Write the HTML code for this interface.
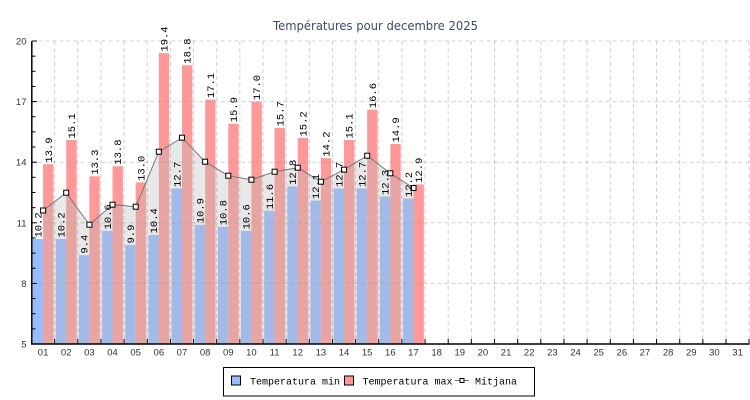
<!DOCTYPE html>
<html><head><meta charset="utf-8"><style>
html,body{margin:0;padding:0;background:#fff;}
svg{display:block;}
.tl{font-family:"Liberation Sans",sans-serif;font-size:9.5px;fill:#333;}
.vl{font-family:"Liberation Mono","DejaVu Sans Mono",monospace;font-size:10.5px;fill:#000;}
.lg{font-family:"Liberation Mono","DejaVu Sans Mono",monospace;font-size:10px;fill:#000;}
</style></head><body>
<svg width="750" height="400" viewBox="0 0 750 400" xmlns="http://www.w3.org/2000/svg">
<rect width="750" height="400" fill="#fff"/>
<text x="375.5" y="30" text-anchor="middle" textLength="205" lengthAdjust="spacingAndGlyphs" style="font-family:'DejaVu Sans','Liberation Sans',sans-serif;font-size:12px;fill:#3d4a6b;">Températures pour decembre 2025</text>

<!-- min bars -->
<g fill="#99bbff">
<rect x="32.675" y="238.96" width="10.4" height="105.04"/>
<rect x="55.825" y="238.96" width="10.4" height="105.04"/>
<rect x="78.975" y="255.12" width="10.4" height="88.88"/>
<rect x="102.125" y="230.88" width="10.4" height="113.12"/>
<rect x="125.275" y="245.02" width="10.4" height="98.98"/>
<rect x="148.425" y="234.92" width="10.4" height="109.08"/>
<rect x="171.575" y="188.46" width="10.4" height="155.54"/>
<rect x="194.725" y="224.82" width="10.4" height="119.18"/>
<rect x="217.875" y="226.84" width="10.4" height="117.16"/>
<rect x="241.025" y="230.88" width="10.4" height="113.12"/>
<rect x="264.175" y="210.68" width="10.4" height="133.32"/>
<rect x="287.325" y="186.44" width="10.4" height="157.56"/>
<rect x="310.475" y="200.58" width="10.4" height="143.42"/>
<rect x="333.625" y="188.46" width="10.4" height="155.54"/>
<rect x="356.775" y="188.46" width="10.4" height="155.54"/>
<rect x="379.925" y="196.54" width="10.4" height="147.46"/>
<rect x="403.075" y="198.56" width="10.4" height="145.44"/>
</g>
<!-- max bars -->
<g fill="#ff9999">
<rect x="43.075" y="164.22" width="10.4" height="179.78"/>
<rect x="66.225" y="139.98" width="10.4" height="204.02"/>
<rect x="89.375" y="176.34" width="10.4" height="167.66"/>
<rect x="112.525" y="166.24" width="10.4" height="177.76"/>
<rect x="135.675" y="182.4" width="10.4" height="161.6"/>
<rect x="158.825" y="53.12" width="10.4" height="290.88"/>
<rect x="181.975" y="65.24" width="10.4" height="278.76"/>
<rect x="205.125" y="99.58" width="10.4" height="244.42"/>
<rect x="228.275" y="123.82" width="10.4" height="220.18"/>
<rect x="251.425" y="101.6" width="10.4" height="242.4"/>
<rect x="274.575" y="127.86" width="10.4" height="216.14"/>
<rect x="297.725" y="137.96" width="10.4" height="206.04"/>
<rect x="320.875" y="158.16" width="10.4" height="185.84"/>
<rect x="344.025" y="139.98" width="10.4" height="204.02"/>
<rect x="367.175" y="109.68" width="10.4" height="234.32"/>
<rect x="390.325" y="144.02" width="10.4" height="199.98"/>
<rect x="413.475" y="184.42" width="10.4" height="159.58"/>
</g>

<!-- mean area -->
<polygon fill="rgba(184,184,184,0.33)" points="43.1,344 43.1,210.5 66.2,192.7 89.4,224.7 112.5,204.7 135.7,206.7 158.8,151.7 182.0,137.7 205.1,161.7 228.3,175.7 251.4,179.7 274.6,171.7 297.7,167.7 320.9,181.7 344.0,169.7 367.2,155.7 390.3,173.3 413.5,188.0 413.5,344"/>

<!-- grid -->
<g stroke="rgba(150,150,150,0.45)" stroke-width="1" stroke-dasharray="4,3" fill="none">
<line x1="31.5" y1="41" x2="749" y2="41"/>
<line x1="31.5" y1="101.6" x2="749" y2="101.6"/>
<line x1="31.5" y1="162.2" x2="749" y2="162.2"/>
<line x1="31.5" y1="222.8" x2="749" y2="222.8"/>
<line x1="31.5" y1="283.4" x2="749" y2="283.4"/>
<line x1="54.65" y1="41" x2="54.65" y2="344"/>
<line x1="77.8" y1="41" x2="77.8" y2="344"/>
<line x1="100.95" y1="41" x2="100.95" y2="344"/>
<line x1="124.1" y1="41" x2="124.1" y2="344"/>
<line x1="147.25" y1="41" x2="147.25" y2="344"/>
<line x1="170.4" y1="41" x2="170.4" y2="344"/>
<line x1="193.55" y1="41" x2="193.55" y2="344"/>
<line x1="216.7" y1="41" x2="216.7" y2="344"/>
<line x1="239.85" y1="41" x2="239.85" y2="344"/>
<line x1="263" y1="41" x2="263" y2="344"/>
<line x1="286.15" y1="41" x2="286.15" y2="344"/>
<line x1="309.3" y1="41" x2="309.3" y2="344"/>
<line x1="332.45" y1="41" x2="332.45" y2="344"/>
<line x1="355.6" y1="41" x2="355.6" y2="344"/>
<line x1="378.75" y1="41" x2="378.75" y2="344"/>
<line x1="401.9" y1="41" x2="401.9" y2="344"/>
<line x1="425.05" y1="41" x2="425.05" y2="344"/>
<line x1="448.2" y1="41" x2="448.2" y2="344"/>
<line x1="471.35" y1="41" x2="471.35" y2="344"/>
<line x1="494.5" y1="41" x2="494.5" y2="344"/>
<line x1="517.65" y1="41" x2="517.65" y2="344"/>
<line x1="540.8" y1="41" x2="540.8" y2="344"/>
<line x1="563.95" y1="41" x2="563.95" y2="344"/>
<line x1="587.1" y1="41" x2="587.1" y2="344"/>
<line x1="610.25" y1="41" x2="610.25" y2="344"/>
<line x1="633.4" y1="41" x2="633.4" y2="344"/>
<line x1="656.55" y1="41" x2="656.55" y2="344"/>
<line x1="679.7" y1="41" x2="679.7" y2="344"/>
<line x1="702.85" y1="41" x2="702.85" y2="344"/>
<line x1="726" y1="41" x2="726" y2="344"/>
<line x1="749" y1="41" x2="749" y2="344"/>
</g>

<!-- mean line -->
<polyline fill="none" stroke="#777" stroke-width="1" points="43.1,210.5 66.2,192.7 89.4,224.7 112.5,204.7 135.7,206.7 158.8,151.7 182.0,137.7 205.1,161.7 228.3,175.7 251.4,179.7 274.6,171.7 297.7,167.7 320.9,181.7 344.0,169.7 367.2,155.7 390.3,173.3 413.5,188.0"/>
<g fill="#fff" stroke="#000" stroke-width="1">
<rect x="40.6" y="208" width="5" height="5"/>
<rect x="63.7" y="190.2" width="5" height="5"/>
<rect x="86.9" y="222.2" width="5" height="5"/>
<rect x="110" y="202.2" width="5" height="5"/>
<rect x="133.2" y="204.2" width="5" height="5"/>
<rect x="156.3" y="149.2" width="5" height="5"/>
<rect x="179.5" y="135.2" width="5" height="5"/>
<rect x="202.6" y="159.2" width="5" height="5"/>
<rect x="225.8" y="173.2" width="5" height="5"/>
<rect x="248.9" y="177.2" width="5" height="5"/>
<rect x="272.1" y="169.2" width="5" height="5"/>
<rect x="295.2" y="165.2" width="5" height="5"/>
<rect x="318.4" y="179.2" width="5" height="5"/>
<rect x="341.5" y="167.2" width="5" height="5"/>
<rect x="364.7" y="153.2" width="5" height="5"/>
<rect x="387.8" y="170.8" width="5" height="5"/>
<rect x="411" y="185.5" width="5" height="5"/>
</g>

<!-- value labels min -->
<g class="vl">
<text transform="translate(41.4,237.5) rotate(-90)">10.2</text>
<text transform="translate(64.5,237.5) rotate(-90)">10.2</text>
<text transform="translate(87.7,253.6) rotate(-90)">9.4</text>
<text transform="translate(110.8,229.4) rotate(-90)">10.6</text>
<text transform="translate(134,243.5) rotate(-90)">9.9</text>
<text transform="translate(157.1,233.4) rotate(-90)">10.4</text>
<text transform="translate(180.3,187) rotate(-90)">12.7</text>
<text transform="translate(203.4,223.3) rotate(-90)">10.9</text>
<text transform="translate(226.6,225.3) rotate(-90)">10.8</text>
<text transform="translate(249.7,229.4) rotate(-90)">10.6</text>
<text transform="translate(272.9,209.2) rotate(-90)">11.6</text>
<text transform="translate(296,184.9) rotate(-90)">12.8</text>
<text transform="translate(319.2,199.1) rotate(-90)">12.1</text>
<text transform="translate(342.3,187) rotate(-90)">12.7</text>
<text transform="translate(365.5,187) rotate(-90)">12.7</text>
<text transform="translate(388.6,195) rotate(-90)">12.3</text>
<text transform="translate(411.8,197.1) rotate(-90)">12.2</text>
</g>
<!-- value labels max -->
<g class="vl">
<text transform="translate(51.8,162.7) rotate(-90)">13.9</text>
<text transform="translate(74.9,138.5) rotate(-90)">15.1</text>
<text transform="translate(98.1,174.8) rotate(-90)">13.3</text>
<text transform="translate(121.2,164.7) rotate(-90)">13.8</text>
<text transform="translate(144.4,180.9) rotate(-90)">13.0</text>
<text transform="translate(167.5,51.6) rotate(-90)">19.4</text>
<text transform="translate(190.7,63.7) rotate(-90)">18.8</text>
<text transform="translate(213.8,98.1) rotate(-90)">17.1</text>
<text transform="translate(237,122.3) rotate(-90)">15.9</text>
<text transform="translate(260.1,100.1) rotate(-90)">17.0</text>
<text transform="translate(283.3,126.4) rotate(-90)">15.7</text>
<text transform="translate(306.4,136.5) rotate(-90)">15.2</text>
<text transform="translate(329.6,156.7) rotate(-90)">14.2</text>
<text transform="translate(352.7,138.5) rotate(-90)">15.1</text>
<text transform="translate(375.9,108.2) rotate(-90)">16.6</text>
<text transform="translate(399,142.5) rotate(-90)">14.9</text>
<text transform="translate(422.2,182.9) rotate(-90)">12.9</text>
</g>

<!-- axes -->
<g stroke="#000" stroke-width="1.5" fill="none">
<line x1="31.8" y1="41" x2="31.8" y2="344.5"/>
<line x1="31" y1="344" x2="749.5" y2="344"/>
</g>
<g stroke="#000" stroke-width="1" fill="none">
<line x1="32" y1="41" x2="37" y2="41"/>
<line x1="32" y1="101.6" x2="37" y2="101.6"/>
<line x1="32" y1="162.2" x2="37" y2="162.2"/>
<line x1="32" y1="222.8" x2="37" y2="222.8"/>
<line x1="32" y1="283.4" x2="37" y2="283.4"/>
<line x1="32" y1="56.15" x2="35.5" y2="56.15"/>
<line x1="32" y1="71.3" x2="35.5" y2="71.3"/>
<line x1="32" y1="86.45" x2="35.5" y2="86.45"/>
<line x1="32" y1="116.75" x2="35.5" y2="116.75"/>
<line x1="32" y1="131.9" x2="35.5" y2="131.9"/>
<line x1="32" y1="147.05" x2="35.5" y2="147.05"/>
<line x1="32" y1="177.35" x2="35.5" y2="177.35"/>
<line x1="32" y1="192.5" x2="35.5" y2="192.5"/>
<line x1="32" y1="207.65" x2="35.5" y2="207.65"/>
<line x1="32" y1="237.95" x2="35.5" y2="237.95"/>
<line x1="32" y1="253.1" x2="35.5" y2="253.1"/>
<line x1="32" y1="268.25" x2="35.5" y2="268.25"/>
<line x1="32" y1="298.55" x2="35.5" y2="298.55"/>
<line x1="32" y1="313.7" x2="35.5" y2="313.7"/>
<line x1="32" y1="328.85" x2="35.5" y2="328.85"/>
<line x1="54.65" y1="344" x2="54.65" y2="339"/>
<line x1="77.8" y1="344" x2="77.8" y2="339"/>
<line x1="100.95" y1="344" x2="100.95" y2="339"/>
<line x1="124.1" y1="344" x2="124.1" y2="339"/>
<line x1="147.25" y1="344" x2="147.25" y2="339"/>
<line x1="170.4" y1="344" x2="170.4" y2="339"/>
<line x1="193.55" y1="344" x2="193.55" y2="339"/>
<line x1="216.7" y1="344" x2="216.7" y2="339"/>
<line x1="239.85" y1="344" x2="239.85" y2="339"/>
<line x1="263" y1="344" x2="263" y2="339"/>
<line x1="286.15" y1="344" x2="286.15" y2="339"/>
<line x1="309.3" y1="344" x2="309.3" y2="339"/>
<line x1="332.45" y1="344" x2="332.45" y2="339"/>
<line x1="355.6" y1="344" x2="355.6" y2="339"/>
<line x1="378.75" y1="344" x2="378.75" y2="339"/>
<line x1="401.9" y1="344" x2="401.9" y2="339"/>
<line x1="425.05" y1="344" x2="425.05" y2="339"/>
<line x1="448.2" y1="344" x2="448.2" y2="339"/>
<line x1="471.35" y1="344" x2="471.35" y2="339"/>
<line x1="494.5" y1="344" x2="494.5" y2="339"/>
<line x1="517.65" y1="344" x2="517.65" y2="339"/>
<line x1="540.8" y1="344" x2="540.8" y2="339"/>
<line x1="563.95" y1="344" x2="563.95" y2="339"/>
<line x1="587.1" y1="344" x2="587.1" y2="339"/>
<line x1="610.25" y1="344" x2="610.25" y2="339"/>
<line x1="633.4" y1="344" x2="633.4" y2="339"/>
<line x1="656.55" y1="344" x2="656.55" y2="339"/>
<line x1="679.7" y1="344" x2="679.7" y2="339"/>
<line x1="702.85" y1="344" x2="702.85" y2="339"/>
<line x1="726" y1="344" x2="726" y2="339"/>
<line x1="749" y1="344" x2="749" y2="339"/>
</g>

<!-- y labels -->
<g class="tl" text-anchor="end">
<text x="26.5" y="44.5">20</text>
<text x="26.5" y="105.1">17</text>
<text x="26.5" y="165.7">14</text>
<text x="26.5" y="226.3">11</text>
<text x="26.5" y="286.9">8</text>
<text x="26.5" y="347.5">5</text>
</g>
<!-- x labels -->
<g class="tl" text-anchor="middle">
<text x="43.075" y="355.5">01</text>
<text x="66.225" y="355.5">02</text>
<text x="89.375" y="355.5">03</text>
<text x="112.525" y="355.5">04</text>
<text x="135.675" y="355.5">05</text>
<text x="158.825" y="355.5">06</text>
<text x="181.975" y="355.5">07</text>
<text x="205.125" y="355.5">08</text>
<text x="228.275" y="355.5">09</text>
<text x="251.425" y="355.5">10</text>
<text x="274.575" y="355.5">11</text>
<text x="297.725" y="355.5">12</text>
<text x="320.875" y="355.5">13</text>
<text x="344.025" y="355.5">14</text>
<text x="367.175" y="355.5">15</text>
<text x="390.325" y="355.5">16</text>
<text x="413.475" y="355.5">17</text>
<text x="436.625" y="355.5">18</text>
<text x="459.775" y="355.5">19</text>
<text x="482.925" y="355.5">20</text>
<text x="506.075" y="355.5">21</text>
<text x="529.225" y="355.5">22</text>
<text x="552.375" y="355.5">23</text>
<text x="575.525" y="355.5">24</text>
<text x="598.675" y="355.5">25</text>
<text x="621.825" y="355.5">26</text>
<text x="644.975" y="355.5">27</text>
<text x="668.125" y="355.5">28</text>
<text x="691.275" y="355.5">29</text>
<text x="714.425" y="355.5">30</text>
<text x="737.575" y="355.5">31</text>
</g>

<!-- legend -->
<rect x="223.5" y="367.5" width="311" height="28.5" fill="#fff" stroke="#000" stroke-width="1"/>
<rect x="231.5" y="376" width="9" height="9" fill="#99bbff" stroke="#000" stroke-width="1"/>
<text class="lg" x="250" y="384.5">Temperatura min</text>
<rect x="344.5" y="376" width="9" height="9" fill="#ff9999" stroke="#000" stroke-width="1"/>
<text class="lg" x="362.5" y="384.5">Temperatura max</text>
<line x1="455" y1="380.5" x2="469" y2="380.5" stroke="#777" stroke-width="1"/>
<rect x="460" y="378.5" width="4" height="4" fill="#fff" stroke="#000" stroke-width="1"/>
<text class="lg" x="475" y="384.5">Mitjana</text>
</svg>
</body></html>
